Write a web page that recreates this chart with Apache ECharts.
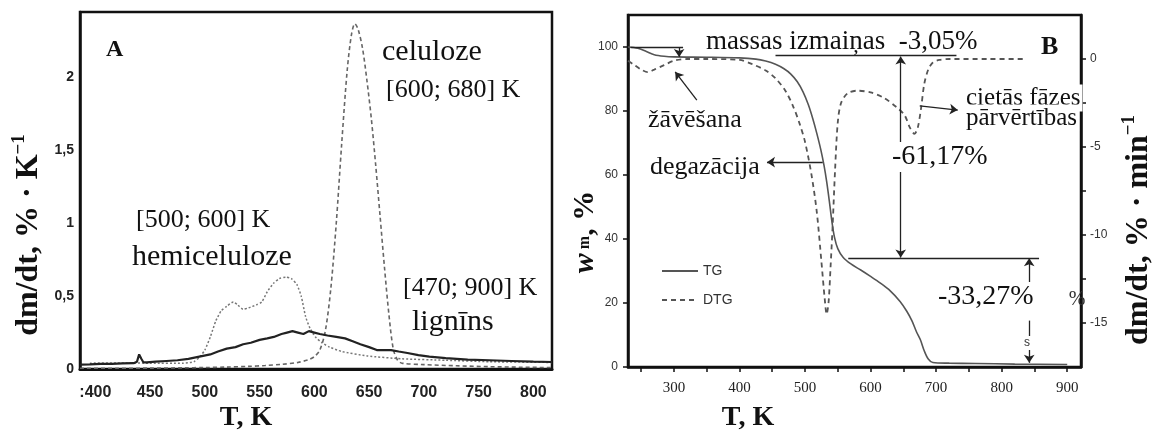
<!DOCTYPE html>
<html>
<head>
<meta charset="utf-8">
<script src="https://cdn.jsdelivr.net/npm/echarts@6/dist/echarts.min.js"></script>
<style>
  html, body { margin: 0; padding: 0; background: #fff; }
  #main { width: 1153px; height: 434px; }
</style>
</head>
<body>
<div id="main"></div>
<script>
// A: dm/dt of the three components, % per K
var celT = [386, 420, 450, 480, 500, 520, 540, 555, 570, 585, 595, 600, 605, 610, 615, 620, 625, 630, 634, 637, 640, 644, 648, 652, 656, 660, 664, 668, 672, 676, 680, 700, 730, 760, 790, 817];
var celV = [0.005, 0.005, 0.006, 0.008, 0.01, 0.013, 0.018, 0.024, 0.032, 0.045, 0.065, 0.085, 0.13, 0.26, 0.55, 1.0, 1.55, 2.05, 2.3, 2.37, 2.33, 2.2, 1.98, 1.72, 1.4, 1.05, 0.7, 0.38, 0.14, 0.06, 0.04, 0.03, 0.022, 0.016, 0.012, 0.01];

var hemT = [395, 420, 450, 480, 490, 495, 500, 505, 510, 515, 520, 526, 530, 535, 540, 547, 552, 557, 563, 568, 574, 579, 584, 588, 592, 596, 601, 607, 614, 625, 648, 680, 720, 760, 817];
var hemV = [0.04, 0.042, 0.04, 0.04, 0.05, 0.08, 0.13, 0.22, 0.33, 0.4, 0.43, 0.46, 0.44, 0.41, 0.42, 0.44, 0.46, 0.53, 0.59, 0.62, 0.63, 0.62, 0.58, 0.5, 0.36, 0.28, 0.22, 0.18, 0.15, 0.12, 0.09, 0.07, 0.06, 0.05, 0.045];

var ligT = [386, 395, 405, 415, 425, 435, 438, 440, 442, 444, 447, 455, 465, 475, 485, 495, 505, 512, 520, 528, 535, 542, 550, 557, 563, 570, 575, 580, 585, 590, 595, 600, 605, 612, 620, 628, 635, 642, 650, 657, 663, 670, 677, 685, 695, 705, 720, 740, 760, 780, 800, 817];
var ligV = [0.03, 0.032, 0.035, 0.035, 0.038, 0.04, 0.05, 0.1, 0.07, 0.045, 0.045, 0.05, 0.055, 0.06, 0.07, 0.085, 0.1, 0.12, 0.14, 0.15, 0.17, 0.18, 0.2, 0.21, 0.22, 0.24, 0.25, 0.26, 0.25, 0.24, 0.26, 0.25, 0.24, 0.23, 0.22, 0.21, 0.19, 0.17, 0.15, 0.13, 0.13, 0.13, 0.12, 0.11, 0.095, 0.085, 0.075, 0.065, 0.06, 0.055, 0.05, 0.048];

// B: TG (mass, %) and DTG (%/min)
var tgT = [230, 245, 258, 270, 285, 300, 350, 400, 425, 440, 455, 468, 478, 488, 497, 505, 512, 518, 524, 529, 533, 537, 541, 545, 550, 558, 570, 585, 600, 615, 630, 645, 655, 663, 670, 676, 682, 688, 695, 720, 760, 820, 900];
var tgV = [100, 99.6, 98.6, 97.6, 97.1, 96.9, 96.8, 96.6, 96.2, 95.6, 94.6, 93.2, 91.6, 89.2, 86, 82, 77.5, 73, 68, 63, 58, 52, 45.5, 40.5, 37, 34.3, 32.2, 30.3, 28.3, 26.2, 23.8, 20.5, 17.5, 14.5, 11, 8.5, 5, 2.5, 1.4, 1.2, 1.1, 0.9, 0.8];

var dtgT = [230, 240, 250, 260, 270, 285, 300, 320, 350, 400, 420, 440, 455, 470, 482, 492, 500, 510, 518, 525, 530, 533, 536, 539, 542, 546, 550, 555, 565, 580, 600, 620, 640, 652, 660, 667, 672, 677, 682, 688, 695, 705, 720, 780, 835];
var dtgV = [-0.1, -0.35, -0.6, -0.75, -0.6, -0.35, -0.1, 0, 0, -0.05, -0.3, -0.65, -1.1, -1.8, -2.7, -3.7, -4.7, -6.6, -8.7, -11.5, -13.6, -14.5, -13.8, -11.8, -9.6, -6.2, -3.6, -2.5, -1.95, -1.8, -1.9, -2.2, -2.75, -3.2, -3.9, -4.25, -3.9, -2.8, -1.4, -0.6, -0.2, -0.05, 0, 0, 0];

var ticksA_x = [400, 450, 500, 550, 600, 650, 700, 750, 800];
var ticksA_y = [0, 0.5, 1, 1.5, 2];
var ticksB_x = [300, 400, 500, 600, 700, 800, 900];
var minorB_x = [250, 300, 350, 400, 450, 500, 550, 600, 650, 700, 750, 800, 850, 900];
var ticksB_y = [0, 20, 40, 60, 80, 100];
var ticksB_r = [0, -5, -10, -15];
var minorB_r = [0, -2.5, -5, -7.5, -10, -12.5, -15];

function pairs(xs, ys) {
  return xs.map(function (x, i) { return [x, ys[i]]; });
}

var serif = '"Liberation Serif", "Times New Roman", serif';
var sans = '"Liberation Sans", Arial, sans-serif';

function txt(x, y, s, size, opt) {
  opt = opt || {};
  var el = {
    type: 'text', x: x, y: y, z: 100,
    style: {
      text: s,
      font: (opt.weight || 'normal') + ' ' + size + 'px ' + (opt.family || serif),
      fill: opt.color || '#111',
      align: opt.align || 'left',
      verticalAlign: 'middle'
    }
  };
  if (opt.bg) { el.style.backgroundColor = '#fff'; el.style.padding = [1, 2]; }
  return el;
}

function vtxt(x, y, main, sup, size) {
  return {
    type: 'text', x: x, y: y, rotation: Math.PI / 2, z: 100,
    style: {
      text: '{a|' + main + '}{b|' + sup + '}',
      align: 'center', verticalAlign: 'middle',
      rich: {
        a: { font: 'bold ' + size + 'px ' + serif, fill: '#111', lineHeight: size + 6 },
        b: { font: 'bold ' + Math.round(size * 0.6) + 'px ' + serif, fill: '#111', verticalAlign: 'top' }
      }
    }
  };
}

function arrowLine(x1, y1, x2, y2, s1, s2) {
  return [{ coord: [x1, y1], symbol: s1 || 'none' }, { coord: [x2, y2], symbol: s2 || 'arrow' }];
}

var myChart = echarts.init(document.getElementById('main'));

var option = {
  animation: false,
  backgroundColor: '#fff',
  grid: [
    { left: 80, top: 12, width: 472, height: 357, show: true, borderColor: '#111', borderWidth: 2.5 },
    { left: 628, top: 15, width: 453, height: 352, show: true, borderColor: '#111', borderWidth: 2.5 }
  ],
  xAxis: [
    {
      gridIndex: 0, type: 'value', min: 386, max: 817,
      axisLine: { show: true, onZero: false, lineStyle: { color: '#111', width: 3 } },
      axisTick: { show: false },
      splitLine: { show: false },
      axisLabel: {
        customValues: ticksA_x,
        formatter: function (v) { return v === 400 ? ':400' : String(v); },
        fontFamily: sans, fontWeight: 'bold', fontSize: 16, color: '#222', margin: 16
      }
    },
    {
      gridIndex: 1, type: 'value', min: 230, max: 921,
      axisLine: { show: true, onZero: false, lineStyle: { color: '#111', width: 2.5 } },
      axisTick: { customValues: minorB_x, length: 5, lineStyle: { color: '#111', width: 1.5 } },
      splitLine: { show: false },
      axisLabel: { customValues: ticksB_x, fontFamily: serif, fontSize: 15, color: '#222', margin: 14 }
    }
  ],
  yAxis: [
    {
      gridIndex: 0, type: 'value', min: 0, max: 2.45,
      axisLine: { show: true, lineStyle: { color: '#111', width: 2.5 } },
      axisTick: { show: false },
      splitLine: { show: false },
      axisLabel: {
        customValues: ticksA_y,
        formatter: function (v) { return String(v).replace('.', ','); },
        fontFamily: sans, fontWeight: 'bold', fontSize: 14, color: '#222', margin: 6
      }
    },
    {
      gridIndex: 1, type: 'value', min: 0, max: 110,
      axisLine: { show: true, lineStyle: { color: '#111', width: 2.5 } },
      axisTick: { customValues: ticksB_y, length: 5, lineStyle: { color: '#111', width: 1.5 } },
      splitLine: { show: false },
      axisLabel: { customValues: ticksB_y, fontFamily: sans, fontSize: 12, color: '#333', margin: 10 }
    },
    {
      gridIndex: 1, type: 'value', position: 'right', min: -17.5, max: 2.5,
      axisLine: { show: true, lineStyle: { color: '#111', width: 2.5 } },
      axisTick: { customValues: minorB_r, length: 5, lineStyle: { color: '#111', width: 1.5 } },
      splitLine: { show: false },
      axisLabel: { customValues: ticksB_r, fontFamily: sans, fontSize: 12, color: '#333', margin: 9 }
    }
  ],
  legend: {
    left: 656, top: 259, orient: 'vertical',
    itemWidth: 36, itemHeight: 14, itemGap: 15,
    itemStyle: { opacity: 0 },
    textStyle: { fontFamily: sans, fontSize: 14, color: '#333' },
    data: ['TG', 'DTG']
  },
  series: [
    {
      name: 'celuloze', type: 'line', xAxisIndex: 0, yAxisIndex: 0, symbol: 'none', smooth: 0.3,
      color: '#666',
      lineStyle: { color: '#666', width: 1.6, type: [4, 3] },
      data: pairs(celT, celV)
    },
    {
      name: 'hemiceluloze', type: 'line', xAxisIndex: 0, yAxisIndex: 0, symbol: 'none', smooth: 0.2,
      color: '#777',
      lineStyle: { color: '#777', width: 1.5, type: [2, 2] },
      data: pairs(hemT, hemV)
    },
    {
      name: 'lignīns', type: 'line', xAxisIndex: 0, yAxisIndex: 0, symbol: 'none',
      color: '#222',
      lineStyle: { color: '#222', width: 2.2 },
      data: pairs(ligT, ligV)
    },
    {
      name: 'TG', type: 'line', xAxisIndex: 1, yAxisIndex: 1, symbol: 'none', smooth: 0.3,
      color: '#555',
      lineStyle: { color: '#555', width: 1.6 },
      data: pairs(tgT, tgV),
      markLine: {
        silent: true, animation: false, symbolSize: 8,
        label: { show: false },
        lineStyle: { color: '#222', width: 1.3, type: 'solid' },
        data: [
          arrowLine(234, 100, 314, 100, 'none', 'none'),
          arrowLine(308, 100, 308, 96.9),
          arrowLine(455, 97.3, 731, 97.3, 'none', 'none'),
          arrowLine(646, 97, 646, 34.2, 'arrow', 'arrow'),
          arrowLine(566, 34.1, 857, 34.1, 'none', 'none'),
          arrowLine(842, 25, 842, 34, 'none', 'arrow'),
          arrowLine(842, 14.5, 842, 1.3),
          arrowLine(335, 83.4, 302, 92.2),
          arrowLine(527, 64, 442, 64),
          arrowLine(675, 81.6, 733, 80.3)
        ]
      }
    },
    {
      name: 'DTG', type: 'line', xAxisIndex: 1, yAxisIndex: 2, symbol: 'none', smooth: 0.3,
      color: '#555',
      lineStyle: { color: '#555', width: 1.8, type: [5, 4] },
      data: pairs(dtgT, dtgV)
    }
  ],
  graphic: [
    // panel A
    txt(106, 50, 'A', 24, { weight: 'bold' }),
    txt(382, 52, 'celuloze', 30),
    txt(386, 90, '[600; 680] K', 26),
    txt(136, 220, '[500; 600] K', 26),
    txt(132, 257, 'hemiceluloze', 30),
    txt(403, 288, '[470; 900] K', 26),
    txt(412, 322, 'lignīns', 30),
    txt(246, 418, 'T, K', 28, { weight: 'bold', align: 'center' }),
    vtxt(29, 235, 'dm/dt, % · K', '−1', 32),
    // panel B
    txt(706, 42, 'massas izmaiņas  -3,05%', 27),
    txt(1041, 47, 'B', 26, { weight: 'bold' }),
    txt(648, 120, 'žāvēšana', 26),
    txt(964, 98, 'cietās fāzes', 25, { bg: true }),
    txt(964, 118, 'pārvērtības', 25, { bg: true }),
    txt(650, 167, 'degazācija', 26),
    txt(890, 157, '-61,17%', 28, { bg: true }),
    txt(936, 297, '-33,27%', 28, { bg: true }),
    txt(1027, 343, 's', 12, { family: sans, color: '#333', align: 'center', bg: true }),
    txt(1077, 300, '%', 20, { align: 'center', color: '#333' }),
    txt(748, 418, 'T, K', 28, { weight: 'bold', align: 'center' }),
    {
      type: 'text', x: 585, y: 232, rotation: Math.PI / 2, z: 100,
      style: {
        text: '{w|w}{m| m}{a|, %}',
        align: 'center', verticalAlign: 'middle',
        rich: {
          w: { font: 'italic bold 30px ' + serif, fill: '#111' },
          m: { font: 'bold 16px ' + serif, fill: '#111' },
          a: { font: 'bold 30px ' + serif, fill: '#111' }
        }
      }
    },
    vtxt(1139, 230, 'dm/dt, % · min', '−1', 32)
  ]
};

myChart.setOption(option);
</script>
</body>
</html>
